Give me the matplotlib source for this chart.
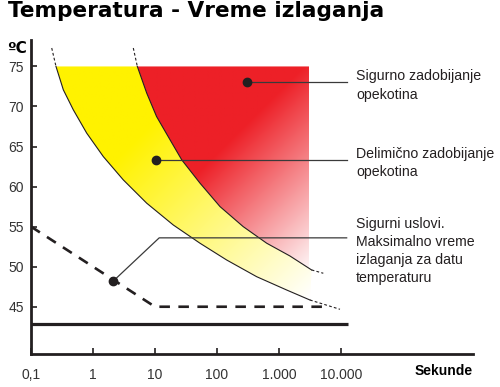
import numpy as np
import matplotlib.pyplot as plt
from matplotlib.patches import Polygon

# curves: time (s) vs temperature (C)
# first and last point of each curve are the dashed ends
first_t = [0.216, 0.253, 0.332, 0.481, 0.791, 1.466, 3.08, 7.35, 19.7, 53.2, 143, 437, 1330, 3162, 9640]
first_T = [77.3, 75.0, 72.09, 69.59, 66.68, 63.75, 60.84, 57.93, 55.21, 52.93, 50.84, 48.75, 47.09, 45.84, 44.68]
second_t = [4.47, 5.19, 7.35, 10.6, 17.5, 27.0, 53.2, 112, 265, 634, 1500, 3365, 5190]
second_T = [77.3, 75.0, 71.68, 68.75, 65.84, 63.34, 60.43, 57.5, 55.0, 52.93, 51.34, 49.59, 49.18]
safe_t = [0.1, 10, 5000]
safe_T = [55, 45, 45]
limit_t = [0.1, 13000]
limit_T = [42.8, 42.8]
top_T = 75
red_edge = 3010

xticks = [0.1, 1, 10, 100, 1000, 10000]
xlabels = ['0,1', '1', '10', '100', '1.000', '10.000']
yticks = [45, 50, 55, 60, 65, 70, 75]

notes = ["Sigurno zadobijanje\nopekotina",
         "Delimično zadobijanje\nopekotina",
         "Sigurni uslovi.\nMaksimalno vreme\nizlaganja za datu\ntemperaturu"]
dot_t = [305, 10.4, 2.12]
dot_T = [73.0, 63.3, 48.2]
elbow_t = [305, 10.4, 11.7]
elbow_T = [73.0, 63.3, 53.6]
note_end = 12360

INK = '#231f20'
RED = np.array([237, 32, 39]) / 255
YEL = np.array([255, 242, 0]) / 255

XMIN, XMAX = 0.1, 10 ** 6.13
YMIN, YMAX = 39.1, 78.3

fig = plt.figure(figsize=(5, 3.87), dpi=100)
ax = fig.add_axes([0.062, 0.0853, 0.884, 0.8113])
ax.set_xscale('log')
ax.set_xlim(XMIN, XMAX)
ax.set_ylim(YMIN, YMAX)


def gradient(color, p0, p1, u1=1.0):
    # diagonal fade to white, worked out in figure pixels
    u = np.linspace(0, u1, 300)
    v = np.linspace(0, 1, 300)
    U, V = np.meshgrid(u, v)
    px = 31 + U * 442
    py = 354 - V * 314
    s = np.clip((0.707 * (px + py) - p0) / (p1 - p0), 0, 1)[..., None]
    return color * (1 - s) + s


# yellow band between the two curves
yel_pts = list(zip(first_t[1:-1], first_T[1:-1])) + list(zip(second_t[1:-1], second_T[1:-1]))[::-1]
yel_poly = Polygon(yel_pts, closed=True, facecolor='none', edgecolor='none')
ax.add_patch(yel_poly)
im = ax.imshow(gradient(YEL, 195, 430), extent=[0, 1, 0, 1], transform=ax.transAxes,
               origin='lower', aspect='auto', interpolation='bilinear', zorder=1)
im.set_clip_path(yel_poly)

# red box right of the second curve
red_pts = list(zip(second_t[1:-1], second_T[1:-1])) + [(XMAX, second_T[-2]), (XMAX, top_T)]
red_poly = Polygon(red_pts, closed=True, facecolor='none', edgecolor='none')
ax.add_patch(red_poly)
u_edge = (np.log10(red_edge) - np.log10(XMIN)) / (np.log10(XMAX) - np.log10(XMIN))
im2 = ax.imshow(gradient(RED, 262, 415, u_edge), extent=[0, u_edge, 0, 1], transform=ax.transAxes,
                origin='lower', aspect='auto', interpolation='bilinear', zorder=1)
im2.set_clip_path(red_poly)

# the curves, solid part and dashed ends
for t, T in [(first_t, first_T), (second_t, second_T)]:
    ax.plot(t[1:-1], T[1:-1], color=INK, lw=0.8, zorder=3)
    ax.plot(t[:2], T[:2], color=INK, lw=0.8, ls=(0, (2.5, 2)), zorder=3)
    ax.plot(t[-2:], T[-2:], color=INK, lw=0.8, ls=(0, (2.5, 2)), zorder=3)

ax.plot(safe_t, safe_T, color=INK, lw=1.9, ls=(0, (4, 3.2)), zorder=3)
ax.plot(limit_t, limit_T, color=INK, lw=2.3, solid_capstyle='butt', zorder=3)

# leader lines and dots
for i in range(3):
    ax.plot([dot_t[i], elbow_t[i], note_end], [dot_T[i], elbow_T[i], elbow_T[i]],
            color='#3a3a3a', lw=0.9, zorder=4)
    ax.plot(dot_t[i], dot_T[i], 'o', color=INK, ms=6, zorder=5)

# axes look
for side in ['top', 'right']:
    ax.spines[side].set_visible(False)
for side in ['left', 'bottom']:
    ax.spines[side].set_linewidth(2)
    ax.spines[side].set_color(INK)
ax.set_xticks(xticks)
ax.set_xticklabels(xlabels)
ax.xaxis.set_minor_locator(plt.NullLocator())
ax.set_yticks(yticks)
ax.tick_params(direction='in', length=4, width=1.2, color=INK, labelcolor='#333333',
               labelsize=10)
ax.tick_params(axis='x', pad=10)
ax.tick_params(axis='y', pad=5)
for lab in ax.get_xticklabels() + ax.get_yticklabels():
    lab.set_family('Liberation Sans')

# texts
fig.text(8 / 500, 1 - 16.7 / 387, 'Temperatura - Vreme izlaganja', fontsize=15.6,
         fontweight='bold', family='DejaVu Sans', va='baseline', color='black')
fig.text(7 / 500, 1 - 53 / 387, 'ºC', fontsize=11, fontweight='bold',
         family='DejaVu Sans', va='baseline', color='black')
fig.text(415 / 500, 1 - 375 / 387, 'Sekunde', fontsize=10, fontweight='bold',
         family='Liberation Sans', va='baseline', color='black')

note_y = [85.5, 163, 250.8]
for txt, y in zip(notes, note_y):
    fig.text(356 / 500, 1 - y / 387, txt, fontsize=10.2, va='center', ha='left',
             family=['Liberation Sans Narrow', 'Liberation Sans'], color=INK,
             linespacing=1.38)

fig.savefig('out.png', dpi=100)
